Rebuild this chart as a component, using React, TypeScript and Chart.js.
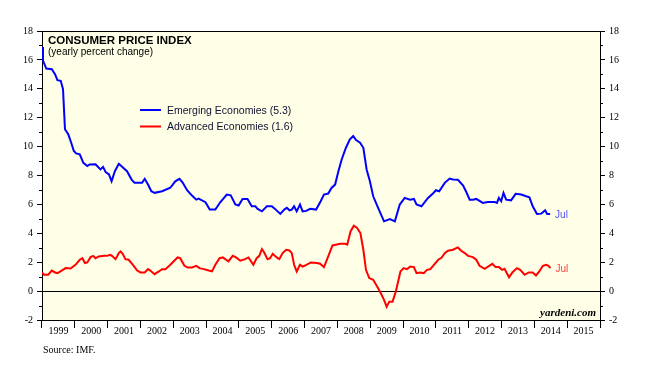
import React, { useEffect, useRef } from "react";
import { Chart, registerables } from "chart.js";

Chart.register(...registerables);

const yearLabels = [1999, 2000, 2001, 2002, 2003, 2004, 2005, 2006, 2007, 2008, 2009, 2010, 2011, 2012, 2013, 2014, 2015];

const emergingDates = [
  1999.0, 1999.03, 1999.13, 1999.3, 1999.4, 1999.47, 1999.57, 1999.64, 1999.7, 1999.8, 1999.89, 1999.97,
  2000.04, 2000.15, 2000.26, 2000.38, 2000.45, 2000.63, 2000.78, 2000.86, 2000.94, 2001.04, 2001.12, 2001.22,
  2001.34, 2001.44, 2001.59, 2001.73, 2001.82, 2002.05, 2002.13, 2002.23, 2002.33, 2002.43, 2002.66, 2002.91,
  2003.06, 2003.19, 2003.29, 2003.42, 2003.57, 2003.7, 2003.77, 2003.98, 2004.11, 2004.28, 2004.43, 2004.63,
  2004.75, 2004.89, 2004.99, 2005.11, 2005.26, 2005.39, 2005.5, 2005.57, 2005.7, 2005.85, 2006.0, 2006.1,
  2006.26, 2006.38, 2006.46, 2006.54, 2006.61, 2006.68, 2006.76, 2006.86, 2006.94, 2007.05, 2007.17, 2007.35,
  2007.49, 2007.59, 2007.72, 2007.82, 2007.93, 2008.03, 2008.13, 2008.26, 2008.38, 2008.48, 2008.57, 2008.69,
  2008.79, 2008.89, 2008.99, 2009.09, 2009.24, 2009.42, 2009.6, 2009.75, 2009.9, 2010.05, 2010.21, 2010.33,
  2010.41, 2010.56, 2010.76, 2010.91, 2011.0, 2011.1, 2011.27, 2011.42, 2011.52, 2011.67, 2011.83, 2011.93,
  2012.03, 2012.13, 2012.23, 2012.43, 2012.58, 2012.79, 2012.86, 2012.92, 2012.99, 2013.06, 2013.14, 2013.29,
  2013.43, 2013.6, 2013.75, 2013.85, 2013.95, 2014.08, 2014.21, 2014.26, 2014.33, 2014.39, 2014.48,
];
const emergingValues = [
  16.9, 15.95, 15.4, 15.35, 15.0, 14.6, 14.55, 13.97, 11.2, 10.85, 10.27, 9.69,
  9.53, 9.46, 8.88, 8.65, 8.76, 8.78, 8.42, 8.6, 8.23, 8.07, 7.6, 8.3,
  8.81, 8.6, 8.3, 7.72, 7.49, 7.49, 7.77, 7.38, 6.91, 6.8, 6.91, 7.15,
  7.6, 7.77, 7.49, 6.98, 6.61, 6.33, 6.4, 6.15, 5.64, 5.64, 6.15, 6.68,
  6.63, 5.99, 5.92, 6.38, 6.38, 5.87, 5.87, 5.69, 5.52, 5.87, 5.87, 5.69,
  5.34, 5.64, 5.76, 5.59, 5.64, 5.87, 5.52, 5.99, 5.52, 5.55, 5.69, 5.64,
  6.22, 6.68, 6.75, 7.14, 7.37, 8.3, 9.11, 9.92, 10.5, 10.73, 10.45, 10.27,
  9.92, 8.42, 7.6, 6.56, 5.76, 4.83, 4.99, 4.83, 5.99, 6.45, 6.33, 6.38,
  5.99, 5.87, 6.45, 6.75, 6.98, 6.91, 7.49, 7.79, 7.72, 7.7, 7.3, 6.84,
  6.33, 6.33, 6.38, 6.1, 6.17, 6.17, 6.1, 6.45, 6.22, 6.8, 6.33, 6.28,
  6.73, 6.68, 6.56, 6.49, 5.87, 5.34, 5.36, 5.45, 5.59, 5.34, 5.34,
];

const advancedDates = [
  1999.0, 1999.06, 1999.19, 1999.3, 1999.4, 1999.47, 1999.6, 1999.72, 1999.87, 2000.02, 2000.15, 2000.23,
  2000.31, 2000.38, 2000.48, 2000.56, 2000.63, 2000.73, 2000.89, 2000.98, 2001.08, 2001.13, 2001.24, 2001.34,
  2001.39, 2001.46, 2001.54, 2001.64, 2001.77, 2001.9, 2002.0, 2002.13, 2002.23, 2002.3, 2002.43, 2002.56,
  2002.66, 2002.76, 2002.91, 2003.06, 2003.13, 2003.21, 2003.34, 2003.44, 2003.57, 2003.7, 2003.8, 2003.93,
  2004.08, 2004.18, 2004.28, 2004.41, 2004.51, 2004.68, 2004.81, 2004.91, 2005.04, 2005.19, 2005.29, 2005.44,
  2005.54, 2005.62, 2005.7, 2005.77, 2005.87, 2005.95, 2006.03, 2006.15, 2006.23, 2006.33, 2006.44, 2006.54,
  2006.61, 2006.68, 2006.76, 2006.86, 2006.94, 2007.04, 2007.19, 2007.37, 2007.47, 2007.59, 2007.72, 2007.85,
  2007.95, 2008.08, 2008.23, 2008.3, 2008.4, 2008.5, 2008.6, 2008.7, 2008.79, 2008.87, 2008.97, 2009.09,
  2009.21, 2009.31, 2009.42, 2009.5, 2009.58, 2009.68, 2009.78, 2009.85, 2009.92, 2010.02, 2010.12, 2010.22,
  2010.33, 2010.41, 2010.53, 2010.63, 2010.73, 2010.83, 2010.94, 2011.07, 2011.17, 2011.27, 2011.37, 2011.52,
  2011.67, 2011.77, 2011.88, 2011.98, 2012.13, 2012.23, 2012.33, 2012.49, 2012.59, 2012.72, 2012.82, 2012.92,
  2013.02, 2013.09, 2013.23, 2013.33, 2013.47, 2013.57, 2013.7, 2013.83, 2013.95, 2014.05, 2014.15, 2014.26,
  2014.36, 2014.43, 2014.49,
];
const advancedValues = [
  1.29, 1.13, 1.13, 1.42, 1.29, 1.24, 1.42, 1.59, 1.56, 1.82, 2.17, 2.28,
  1.94, 1.98, 2.35, 2.44, 2.28, 2.4, 2.44, 2.44, 2.51, 2.44, 2.21, 2.63,
  2.74, 2.58, 2.21, 2.17, 1.82, 1.42, 1.29, 1.29, 1.52, 1.42, 1.17, 1.36,
  1.52, 1.52, 1.82, 2.17, 2.33, 2.28, 1.75, 1.63, 1.63, 1.75, 1.59, 1.52,
  1.42, 1.36, 1.82, 2.28, 2.33, 2.05, 2.44, 2.33, 2.1, 2.21, 2.33, 1.82,
  2.28, 2.44, 2.91, 2.67, 2.21, 2.28, 2.58, 2.33, 2.21, 2.63, 2.86, 2.81,
  2.63, 1.82, 1.36, 1.82, 1.7, 1.8, 1.98, 1.94, 1.89, 1.66, 2.4, 3.16,
  3.21, 3.28, 3.28, 3.21, 4.13, 4.53, 4.37, 4.02, 2.86, 1.47, 0.9, 0.78,
  0.31, -0.1, -0.61, -1.08, -0.73, -0.73, -0.03, 0.66, 1.36, 1.59, 1.52, 1.7,
  1.66, 1.24, 1.29, 1.24, 1.47, 1.52, 1.82, 2.17, 2.3, 2.63, 2.79, 2.86,
  3.02, 2.79, 2.63, 2.44, 2.35, 2.17, 1.75, 1.54, 1.7, 1.89, 1.66, 1.66,
  1.47, 1.54, 0.96, 1.29, 1.59, 1.47, 1.13, 1.29, 1.29, 1.08, 1.36, 1.75,
  1.82, 1.75, 1.59,
];

const seriesNames = ["Emerging Economies (5.3)", "Advanced Economies (1.6)"];
const seriesColors = ["#0000ff", "#ff0000"];
const lastLabel = "Jul";

const yMin = -2;
const yMax = 18;

const serif = "'Liberation Serif', 'DejaVu Serif', serif";
const sans = "'Liberation Sans', Arial, sans-serif";

export default function App() {
  const ref = useRef<HTMLCanvasElement | null>(null);

  useEffect(() => {
    const canvas = ref.current;
    if (!canvas) return;

    const decorPlugin = {
      id: "decor",
      beforeDraw(chart: any) {
        const { ctx, chartArea } = chart;
        ctx.save();
        ctx.fillStyle = "#ffffff";
        ctx.fillRect(0, 0, chart.width, chart.height);
        ctx.fillStyle = "#fffee6";
        ctx.fillRect(chartArea.left, chartArea.top, chartArea.right - chartArea.left, chartArea.bottom - chartArea.top);
        ctx.restore();
      },
      beforeDatasetsDraw(chart: any) {
        const { ctx, chartArea, scales } = chart;
        const y0 = Math.round(scales.y.getPixelForValue(0)) + 0.5;
        ctx.save();
        ctx.strokeStyle = "#000";
        ctx.lineWidth = 1;
        ctx.beginPath();
        ctx.moveTo(chartArea.left, y0);
        ctx.lineTo(chartArea.right, y0);
        ctx.stroke();
        ctx.restore();
      },
      afterDraw(chart: any) {
        const { ctx, chartArea, scales } = chart;
        ctx.save();
        // top border
        ctx.strokeStyle = "#000";
        ctx.lineWidth = 1;
        ctx.beginPath();
        const top = Math.round(chartArea.top) + 0.5;
        ctx.moveTo(chartArea.left, top);
        ctx.lineTo(chartArea.right, top);
        ctx.stroke();
        // minor ticks
        ctx.beginPath();
        for (let v = yMin + 1; v < yMax; v += 2) {
          const py = Math.round(scales.y.getPixelForValue(v)) + 0.5;
          ctx.moveTo(chartArea.left - 3, py);
          ctx.lineTo(chartArea.left, py);
          ctx.moveTo(chartArea.right, py);
          ctx.lineTo(chartArea.right + 3, py);
        }
        ctx.stroke();

        // title
        ctx.fillStyle = "#000";
        ctx.textBaseline = "alphabetic";
        ctx.textAlign = "left";
        ctx.font = `bold 11.5px ${sans}`;
        ctx.fillText("CONSUMER PRICE INDEX", 48, 44);
        ctx.font = `10px ${sans}`;
        ctx.fillText("(yearly percent change)", 48, 55);

        // legend
        const legendY = [110, 126.5];
        seriesNames.forEach((name, i) => {
          ctx.strokeStyle = seriesColors[i];
          ctx.lineWidth = 2;
          ctx.beginPath();
          ctx.moveTo(140, legendY[i]);
          ctx.lineTo(161, legendY[i]);
          ctx.stroke();
          ctx.fillStyle = "#111133";
          ctx.font = `10.5px ${sans}`;
          ctx.textBaseline = "middle";
          ctx.fillText(name, 167, legendY[i] + 1);
        });

        // last labels
        const lastPts = [
          [emergingDates[emergingDates.length - 1], emergingValues[emergingValues.length - 1], "#5050ff"],
          [advancedDates[advancedDates.length - 1], advancedValues[advancedValues.length - 1], "#ff4040"],
        ];
        ctx.font = `10px ${sans}`;
        ctx.textBaseline = "middle";
        lastPts.forEach(([d, v, c]: any) => {
          ctx.fillStyle = c;
          ctx.fillText(lastLabel, scales.x.getPixelForValue(d) + 5, scales.y.getPixelForValue(v) + 1);
        });

        // watermark
        ctx.fillStyle = "#000";
        ctx.textAlign = "right";
        ctx.textBaseline = "alphabetic";
        ctx.font = `italic bold 11px ${serif}`;
        ctx.fillText("yardeni.com", chartArea.right - 4, chartArea.bottom - 4);

        // source
        ctx.textAlign = "left";
        ctx.font = `10px ${serif}`;
        ctx.fillText("Source: IMF.", 43, 353);
        ctx.restore();
      },
    };

    const tickFont = { family: serif, size: 10 };

    const chart = new Chart(canvas, {
      type: "line",
      data: {
        datasets: [
          {
            label: seriesNames[0],
            data: emergingDates.map((d, i) => ({ x: d, y: emergingValues[i] })),
            borderColor: seriesColors[0],
            borderWidth: 2,
            pointRadius: 0,
            tension: 0,
            fill: false,
            yAxisID: "y",
          },
          {
            label: seriesNames[1],
            data: advancedDates.map((d, i) => ({ x: d, y: advancedValues[i] })),
            borderColor: seriesColors[1],
            borderWidth: 2,
            pointRadius: 0,
            tension: 0,
            fill: false,
            yAxisID: "y",
          },
        ],
      },
      options: {
        responsive: false,
        animation: false,
        devicePixelRatio: 1,
        layout: { padding: { top: 31, left: 0, right: 0, bottom: 0 } },
        plugins: {
          legend: { display: false },
          tooltip: { enabled: false },
          title: { display: false },
        },
        scales: {
          x: {
            type: "linear",
            position: "bottom",
            min: 1999,
            max: 2016,
            afterBuildTicks: (s: any) => {
              s.ticks = yearLabels.map((y) => ({ value: y + 0.5 }));
            },
            afterFit: (s: any) => {
              s.height = 52;
            },
            ticks: {
              autoSkip: false,
              maxRotation: 0,
              minRotation: 0,
              padding: -3,
              color: "#000",
              font: tickFont,
              callback: (v: any) => String(Math.floor(Number(v))),
            },
            grid: {
              offset: true,
              drawOnChartArea: false,
              drawTicks: true,
              tickLength: 8,
              color: "#000",
            },
            border: { display: true, color: "#000", width: 1 },
          },
          y: {
            type: "linear",
            position: "left",
            min: yMin,
            max: yMax,
            afterFit: (s: any) => {
              s.width = 42;
            },
            ticks: { stepSize: 2, padding: 4, color: "#000", font: tickFont },
            grid: { drawOnChartArea: false, drawTicks: true, tickLength: 5, color: "#000" },
            border: { display: true, color: "#000", width: 1 },
          },
          y2: {
            type: "linear",
            position: "right",
            min: yMin,
            max: yMax,
            afterFit: (s: any) => {
              s.width = 49;
            },
            ticks: { stepSize: 2, padding: 4, color: "#000", font: tickFont },
            grid: { drawOnChartArea: false, drawTicks: true, tickLength: 5, color: "#000" },
            border: { display: true, color: "#000", width: 1 },
          },
        },
      } as any,
      plugins: [decorPlugin],
    });

    return () => chart.destroy();
  }, []);

  return (
    <div style={{ position: "absolute", left: 0, top: 0, width: 649, height: 372, background: "#fff" }}>
      <canvas ref={ref} width={649} height={372} style={{ display: "block", width: 649, height: 372 }} />
    </div>
  );
}
